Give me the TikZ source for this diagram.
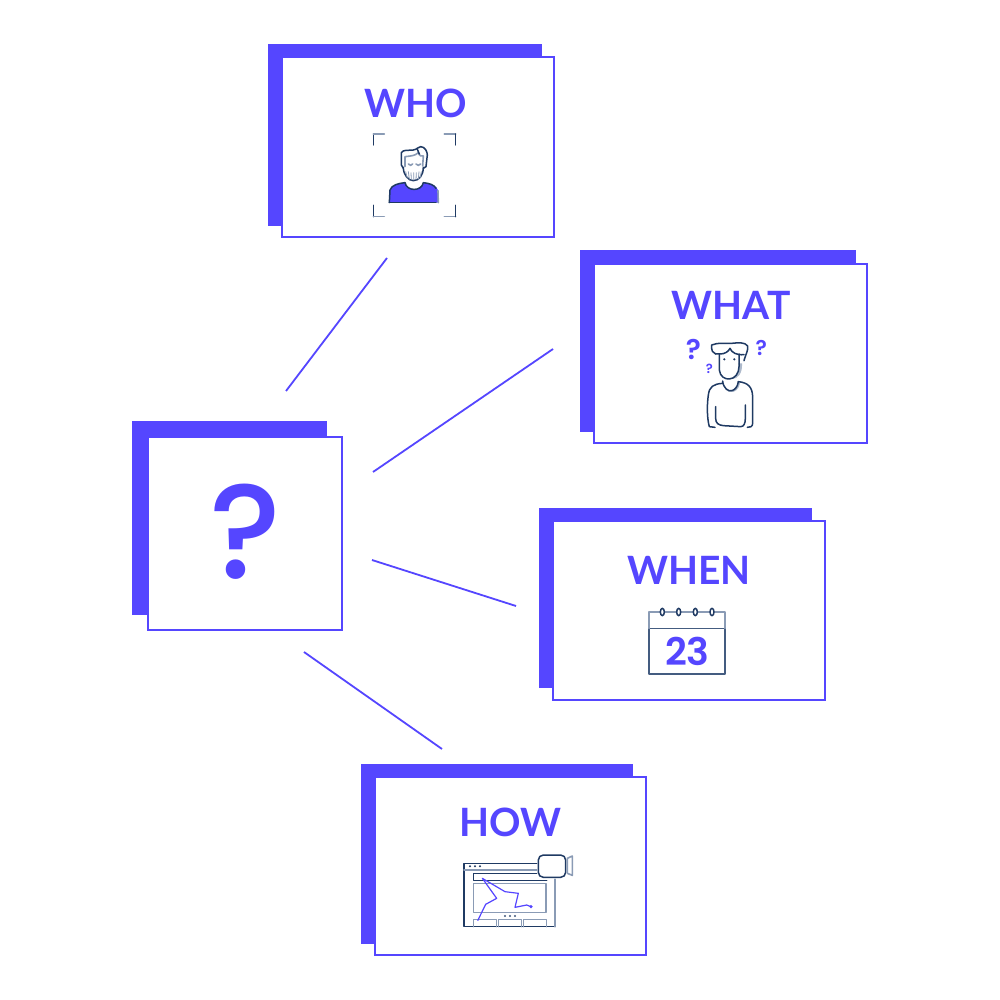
\documentclass[tikz,border=0pt]{standalone}
\usepackage{fontspec}
\setmainfont{Lato}
\newfontfamily\roundfont[UprightFont=* SemiBold,BoldFont=* SemiBold]{Poppins}
\newfontfamily\bigmarkfont[UprightFont=* Medium,BoldFont=* Medium]{Poppins}
\definecolor{brand}{HTML}{5546FF}
\definecolor{navy}{HTML}{1F3A63}
\definecolor{slate}{HTML}{8A9BB5}
\tikzset{
  shadowbox/.style={fill=brand,draw=none,inner sep=0pt,outer sep=0pt},
  frontbox/.style={fill=white,draw=brand,line width=1.8pt,inner sep=0pt,outer sep=0pt},
  link/.style={draw=brand,line width=1.8pt},
  title/.style={text=brand,font=\bfseries\fontsize{39}{39}\selectfont,inner sep=0pt},
  mark glyph/.style={text=brand,font=\roundfont\fontsize{#1}{#1}\selectfont,inner sep=0pt},
  ink/.style={draw=navy,line width=1.5pt,line cap=round,line join=round},
  soft/.style={draw=slate,line width=1.6pt,line cap=round,line join=round},
  trace/.style={shift={#1},x=0.3333pt,y=-0.3333pt}
}
\begin{document}
\begin{tikzpicture}[x=1pt,y=-1pt]
\useasboundingbox (0,0) rectangle (1000,1000);
\fill[white] (0,0) rectangle (1000,1000);
% connectors
\coordinate (whoA) at (387,258); \coordinate (whoB) at (286,391);
\coordinate (whatA) at (553,349); \coordinate (whatB) at (373,472);
\coordinate (whenA) at (372,560); \coordinate (whenB) at (516,606);
\coordinate (howA) at (304,652); \coordinate (howB) at (442,749);
\draw[link] (whoA) -- (whoB);
\draw[link] (whatA) -- (whatB);
\draw[link] (whenA) -- (whenB);
\draw[link] (howA) -- (howB);
% question box
\node[shadowbox,minimum width=195pt,minimum height=194pt] (qs) at (229.5,518) {};
\node[frontbox,minimum width=194pt,minimum height=193pt] (qf) at (245,533.5) {};
\node[text=brand,font=\bigmarkfont\fontsize{134}{134}\selectfont,inner sep=0pt] (qm) at (246,532) {?};
% WHO
\node[shadowbox,minimum width=274pt,minimum height=182pt] (whos) at (405,135) {};
\node[frontbox,minimum width=272pt,minimum height=180pt] (whof) at (418,147) {};
\node[title] (whot) at (415.5,103) {WHO};
% WHAT
\node[shadowbox,minimum width=276pt,minimum height=182pt] (whats) at (718,341) {};
\node[frontbox,minimum width=273pt,minimum height=179pt] (whatf) at (730.5,353.5) {};
\node[title] (whatt) at (731,305) {WHAT};
% WHEN
\node[shadowbox,minimum width=273pt,minimum height=180pt] (whens) at (675.5,598) {};
\node[frontbox,minimum width=272pt,minimum height=179pt] (whenf) at (689,610.5) {};
\node[title] (whent) at (689,570) {WHEN};
% HOW
\node[shadowbox,minimum width=272pt,minimum height=180pt] (hows) at (497,854) {};
\node[frontbox,minimum width=271pt,minimum height=178pt] (howf) at (510.5,866) {};
\node[title] (howt) at (510,822) {HOW};
% who icon
\begin{scope}[trace={(360,130)}]
\fill[brand] (88,218) -- (90,180) .. controls (95,165) and (115,160) .. (135,158)
  .. controls (140,185) and (185,185) .. (190,158) .. controls (210,160) and (230,165) .. (235,182) -- (235,218) -- cycle;
\draw[ink] (88,218) -- (90,180) .. controls (95,165) and (115,160) .. (135,158);
\draw[ink] (135,158) .. controls (140,185) and (185,185) .. (190,158) .. controls (210,160) and (222,165) .. (228,175);
\draw[ink] (88,218) -- (228,218);
\draw[soft] (234,182) -- (235,218);
\draw[ink] (130,112) .. controls (130,135) and (145,152) .. (160,152) .. controls (178,152) and (190,135) .. (190,112);
\draw[ink] (130,115) -- (124,105) -- (124,68) .. controls (130,58) and (145,62) .. (160,60) .. controls (172,58) and (175,50) .. (182,50) .. controls (195,50) and (202,65) .. (202,75) -- (198,110) -- (190,115);
\draw[soft] (135,110) -- (135,80) .. controls (150,78) and (165,78) .. (175,68) .. controls (178,78) and (185,80) .. (190,78) -- (188,108);
\draw[ink] (172,58) -- (178,72);
\draw[soft] (145,102) -- (152,106) -- (158,102) (168,102) -- (175,106) -- (182,102);
\draw[soft,line width=0.8pt] (137,125) -- (142,145) (145,125) -- (148,148) (153,128) -- (154,150) (161,128) -- (161,150) (169,128) -- (168,150) (177,125) -- (175,148) (184,125) -- (180,145);
\draw[ink] (40,45) -- (40,12); \draw[soft] (40,12) -- (73,12);
\draw[soft] (253,12) -- (287,12); \draw[ink] (287,12) -- (287,45);
\draw[ink] (40,226) -- (40,260); \draw[soft] (40,260) -- (73,260);
\draw[soft] (253,260) -- (287,260); \draw[ink] (287,226) -- (287,260);
\end{scope}
% what icon
\begin{scope}[trace={(670,330)}]
\node[mark glyph=28] (q1) at (70,58) {?};
\node[mark glyph=21] (q2) at (274,53) {?};
\node[mark glyph=13] (q3) at (118,116) {?};
\fill[slate!70] (205,100) .. controls (212,125) and (205,140) .. (185,147) .. controls (203,148) and (218,130) .. (216,100) -- cycle;
\fill[slate!70] (165,178) .. controls (185,190) and (198,180) .. (205,158) -- (210,160) .. controls (208,175) and (195,190) .. (178,186) -- cycle;
\draw[ink] (148,72) -- (148,120) .. controls (150,140) and (165,148) .. (178,147) .. controls (195,146) and (207,130) .. (207,110) -- (207,72);
\draw[ink] (137,72) .. controls (128,70) and (124,62) .. (125,45) .. controls (145,36) and (170,42) .. (185,40) .. controls (205,38) and (225,36) .. (233,48) .. controls (235,62) and (228,70) .. (222,92);
\draw[ink] (137,72) -- (150,72) .. controls (165,72) and (175,65) .. (180,55) .. controls (185,68) and (200,76) .. (222,74);
\draw[ink] (158,153) .. controls (160,175) and (175,185) .. (185,182) .. controls (195,180) and (203,170) .. (205,155);
\draw[ink] (158,160) .. controls (130,162) and (118,170) .. (115,195) .. controls (110,230) and (112,270) .. (118,290) -- (135,292);
\draw[ink] (205,155) .. controls (235,158) and (247,172) .. (248,200) -- (248,280) .. controls (248,290) and (240,293) .. (232,292);
\draw[ink] (137,230) -- (137,265) .. controls (137,280) and (145,285) .. (160,287) -- (212,290) .. controls (222,290) and (226,280) .. (226,265) -- (226,225);
\fill[navy] (163,88) circle (1.2pt) (193,88) circle (1.2pt);
\end{scope}
% when icon
\begin{scope}[trace={(640,600)}]
\draw[ink,draw=navy!65!slate] (27,85) -- (27,222) -- (255,222) -- (255,85) -- cycle;
\draw[soft] (27,85) -- (27,36) -- (255,36) -- (255,85);
\foreach \rx in {67,116,166,216}{
  \fill[white] (\rx,36) ellipse [x radius=6,y radius=11];
  \draw[ink] (\rx,36) ellipse [x radius=6,y radius=11];
}
\node[mark glyph=38] (cal) at (142,155) {23};
\end{scope}
% how icon
\begin{scope}[trace={(455,850)}]
\draw[ink] (245,40) -- (27,40) -- (27,230) -- (300,230);
\draw[soft,line width=2pt] (300,88) -- (300,230);
\draw[soft] (27,60) -- (245,60);
\draw[ink] (245,70) -- (55,70) -- (55,92) -- (275,92);
\draw[soft] (55,100) -- (273,100) -- (273,187) -- (55,187) -- cycle;
\foreach \dx in {45,60,75}{\fill[navy] (\dx,49) circle (1.1pt);}
\foreach \dx in {150,165,180}{\fill[navy!70!slate] (\dx,198) circle (1.1pt);}
\draw[soft] (55,230) -- (55,208) -- (125,208) -- (125,230);
\draw[soft] (130,230) -- (130,208) -- (200,208) -- (200,230);
\draw[soft] (205,230) -- (205,208) -- (275,208) -- (275,230);
\draw[ink,fill=white,rounded corners=5pt] (250,15) rectangle (332,82);
\draw[soft,line join=round] (337,25) -- (352,18) -- (352,76) -- (337,70) -- cycle;
\draw[brand,line width=1.2pt,line join=round] (68,212) -- (92,163) -- (125,145) -- (82,85) -- (150,125) -- (190,130) -- (180,172) -- (215,165) -- (228,170);
\fill[brand] (228,170) circle (1.8pt);
\end{scope}
\end{tikzpicture}
\end{document}
